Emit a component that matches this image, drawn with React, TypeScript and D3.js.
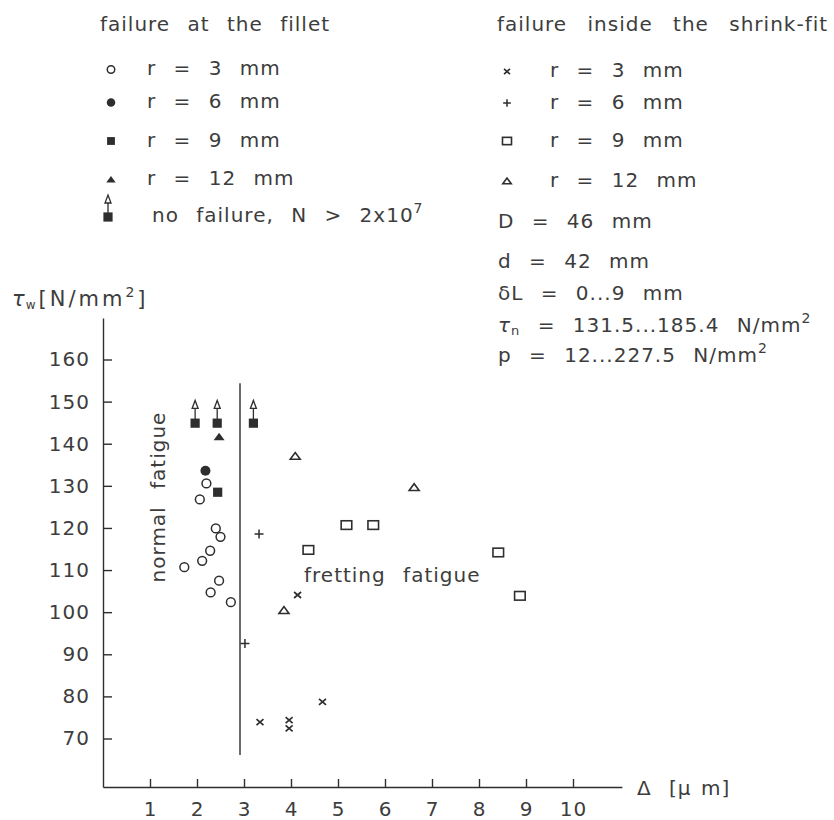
import React, { useEffect, useRef } from 'react';
import * as d3 from 'd3';

type Pt = [number, number];

const xTicks = [1, 2, 3, 4, 5, 6, 7, 8, 9, 10];
const yTicks = [70, 80, 90, 100, 110, 120, 130, 140, 150, 160];

// failure at the fillet  [delta in um, tau_w in N/mm2]
const filletR3: Pt[] = [
    [2.2, 130.7], [2.06, 126.9], [2.4, 120.0], [2.5, 118.0], [2.28, 114.7],
    [2.11, 112.3], [1.73, 110.8], [2.47, 107.6], [2.29, 104.8], [2.72, 102.5],
];
const filletR6: Pt[] = [[2.18, 133.7]];
const filletR9: Pt[] = [[2.44, 128.6]];
const filletR12: Pt[] = [[2.47, 141.8]];
// no failure, N > 2x10^7 (arrow points up to the limit)
const noFailure: Pt[] = [[1.96, 145], [2.43, 145], [3.2, 145]];
const noFailureTip = 150.4;

// failure inside the shrink-fit
const shrinkR3: Pt[] = [[4.14, 104.2], [3.34, 74.0], [3.96, 74.5], [3.96, 72.5], [4.67, 78.8]];
const shrinkR6: Pt[] = [[3.32, 118.7], [3.02, 92.7]];
const shrinkR9: Pt[] = [[5.18, 120.8], [5.75, 120.8], [4.37, 114.9], [8.41, 114.3], [8.87, 104.0]];
const shrinkR12: Pt[] = [[4.09, 137.2], [6.62, 129.8], [3.85, 100.6]];

// border between normal fatigue and fretting fatigue
const borderX = 2.915;
const borderY: Pt = [66.2, 154.5];

const xAxisEnd = 11.04;
const yAxisRange: Pt = [58.6, 170];

const leftTitle = 'failure at the fillet';
const rightTitle = 'failure inside the shrink-fit';
const radiusLabels = ['r = 3 mm', 'r = 6 mm', 'r = 9 mm', 'r = 12 mm'];
const leftKinds = ['circleOpen', 'circleFilled', 'squareFilled', 'triangleFilled'];
const rightKinds = ['cross', 'plus', 'squareOpen', 'triangleOpen'];
const geometry = ['D = 46 mm', 'd = 42 mm', 'δL = 0...9 mm'];

const ink = '#2e2e2e';
const txt = '#3d3d3d';
const font = "'DejaVu Sans', sans-serif";

const App: React.FC = () => {
    const ref = useRef<SVGSVGElement | null>(null);

    useEffect(() => {
        if (!ref.current) return;
        const svg = d3.select(ref.current);
        svg.selectAll('*').remove();

        const x = d3.scaleLinear().domain([0, 10]).range([103, 573]);
        const y = d3.scaleLinear().domain([70, 160]).range([739, 360]);

        const addText = (g: any, px: number, py: number, s: string) =>
            g.append('text')
                .attr('x', px).attr('y', py)
                .style('font-family', font)
                .style('font-size', '20px')
                .style('letter-spacing', '1px')
                .style('word-spacing', '10px')
                .style('fill', txt)
                .text(s);

        const marker = (g: any, kind: string, cx: number, cy: number, s = 1) => {
            switch (kind) {
                case 'circleOpen':
                    g.append('circle').attr('cx', cx).attr('cy', cy).attr('r', 4.4 * s)
                        .attr('fill', 'none').attr('stroke', ink).attr('stroke-width', 1.5);
                    break;
                case 'circleFilled':
                    g.append('circle').attr('cx', cx).attr('cy', cy).attr('r', 5 * s).attr('fill', ink);
                    break;
                case 'squareFilled':
                    g.append('rect').attr('x', cx - 4.6 * s).attr('y', cy - 4.6 * s)
                        .attr('width', 9.2 * s).attr('height', 9.2 * s).attr('fill', ink);
                    break;
                case 'triangleFilled':
                    g.append('path').attr('fill', ink)
                        .attr('d', `M${cx - 5.5 * s},${cy + 3.5 * s}L${cx + 5.5 * s},${cy + 3.5 * s}L${cx},${cy - 4 * s}Z`);
                    break;
                case 'squareOpen':
                    g.append('rect').attr('x', cx - 5.3 * s).attr('y', cy - 4.3 * s)
                        .attr('width', 10.6 * s).attr('height', 8.6 * s)
                        .attr('fill', 'none').attr('stroke', ink).attr('stroke-width', 1.6);
                    break;
                case 'triangleOpen':
                    g.append('path').attr('fill', 'none').attr('stroke', ink).attr('stroke-width', 1.6)
                        .attr('d', `M${cx - 5 * s},${cy + 3.3 * s}L${cx + 5 * s},${cy + 3.3 * s}L${cx},${cy - 3.5 * s}Z`);
                    break;
                case 'cross':
                    g.append('path').attr('fill', 'none').attr('stroke', ink).attr('stroke-width', 1.7)
                        .attr('d', `M${cx - 3.5 * s},${cy - 3 * s}L${cx + 3.5 * s},${cy + 3 * s}M${cx - 3.5 * s},${cy + 3 * s}L${cx + 3.5 * s},${cy - 3 * s}`);
                    break;
                case 'plus':
                    g.append('path').attr('fill', 'none').attr('stroke', ink).attr('stroke-width', 1.5)
                        .attr('d', `M${cx - 4.5 * s},${cy}L${cx + 4.5 * s},${cy}M${cx},${cy - 4.5 * s}L${cx},${cy + 4.5 * s}`);
                    break;
            }
        };

        const arrow = (g: any, cx: number, cy: number, tip: number) => {
            marker(g, 'squareFilled', cx, cy);
            g.append('line').attr('x1', cx).attr('x2', cx).attr('y1', cy - 4).attr('y2', tip + 3)
                .attr('stroke', ink).attr('stroke-width', 1.3);
            g.append('path').attr('fill', 'white').attr('stroke', ink).attr('stroke-width', 1.3)
                .attr('d', `M${cx - 3},${tip + 8}L${cx + 3},${tip + 8}L${cx},${tip}Z`);
        };

        // axes
        const xa = d3.scaleLinear().domain([0, xAxisEnd]).range([x(0), x(xAxisEnd)]);
        const ya = d3.scaleLinear().domain(yAxisRange).range([y(yAxisRange[0]), y(yAxisRange[1])]);

        const gx = svg.append('g').attr('transform', `translate(0,${ya(yAxisRange[0])})`)
            .call(d3.axisBottom(xa).tickValues(xTicks).tickFormat(d3.format('d'))
                .tickSizeInner(-8).tickSizeOuter(0).tickPadding(15));
        const gy = svg.append('g').attr('transform', `translate(${x(0)},0)`)
            .call(d3.axisLeft(ya).tickValues(yTicks).tickFormat(d3.format('d'))
                .tickSizeInner(-9).tickSizeOuter(0).tickPadding(13));
        [gx, gy].forEach((g) => {
            g.selectAll('path, line').attr('stroke', ink).attr('stroke-width', 1.4);
            g.selectAll('text').style('font-family', font).style('font-size', '20px')
                .style('letter-spacing', '1px').attr('fill', txt);
        });
        gy.selectAll('.tick').attr('transform', (d: any) => `translate(0,${y(d)})`);

        // axis titles
        const yl = svg.append('text').attr('x', 12).attr('y', 306)
            .style('font-family', font).style('font-size', '21px').style('fill', txt);
        yl.append('tspan').text('τ').style('font-style', 'italic');
        yl.append('tspan').text('w').attr('dy', 3).attr('dx', 1).style('font-size', '12px');
        yl.append('tspan').text('[N/mm').attr('dy', -3).attr('dx', 3).style('letter-spacing', '3px');
        yl.append('tspan').text('2').attr('dy', -9).style('font-size', '14px');
        yl.append('tspan').text(']').attr('dy', 9).attr('dx', 3);

        const xl = addText(svg, 637, 795, '');
        xl.append('tspan').text('Δ ');
        xl.append('tspan').text('[μ m]').style('word-spacing', '2px');

        // border line
        svg.append('line')
            .attr('x1', x(borderX)).attr('x2', x(borderX))
            .attr('y1', y(borderY[0])).attr('y2', y(borderY[1]))
            .attr('stroke', ink).attr('stroke-width', 1.4);

        // region labels
        addText(svg, 0, 0, 'normal fatigue')
            .attr('transform', `translate(165,497) rotate(-90)`)
            .attr('text-anchor', 'middle');
        addText(svg, 304, 582, 'fretting fatigue');

        // points
        const pts = svg.append('g');
        const series: [string, Pt[]][] = [
            ['circleOpen', filletR3], ['circleFilled', filletR6], ['squareFilled', filletR9],
            ['triangleFilled', filletR12], ['cross', shrinkR3], ['plus', shrinkR6],
            ['squareOpen', shrinkR9], ['triangleOpen', shrinkR12],
        ];
        series.forEach(([kind, data]) => {
            data.forEach(([dx, dy]) => marker(pts, kind, x(dx), y(dy)));
        });
        noFailure.forEach(([dx, dy]) => arrow(pts, x(dx), y(dy), y(noFailureTip)));

        // legend left
        const leg = svg.append('g');
        addText(leg, 100, 31, leftTitle);
        const leftRows = [75, 108, 146.5, 185];
        radiusLabels.forEach((l, i) => {
            marker(leg, leftKinds[i], 111, leftRows[i] - 5.5, 0.85);
            addText(leg, 147, leftRows[i], l);
        });
        arrow(leg, 108, 217, 195);
        const nf = addText(leg, 152, 222, 'no failure, N > 2x10');
        nf.append('tspan').text('7').attr('dy', -9).style('font-size', '14px');

        // legend right
        addText(leg, 497, 31, rightTitle).style('word-spacing', '13px');
        const rightRows = [77, 108.5, 146.5, 186.5];
        radiusLabels.forEach((l, i) => {
            marker(leg, rightKinds[i], 507, rightRows[i] - 5.5, 0.85);
            addText(leg, 550, rightRows[i], l);
        });
        const geoRows = [228, 268, 300];
        geometry.forEach((l, i) => addText(leg, 498, geoRows[i], l));
        const tn = addText(leg, 498, 331.5, '');
        tn.append('tspan').text('τ').style('font-style', 'italic');
        tn.append('tspan').text('n').attr('dy', 3).style('font-size', '13px');
        tn.append('tspan').text(' = 131.5...185.4 N/mm').attr('dy', -3);
        tn.append('tspan').text('2').attr('dy', -9).style('font-size', '14px');
        const pp = addText(leg, 498, 361.5, 'p = 12...227.5 N/mm');
        pp.append('tspan').text('2').attr('dy', -9).style('font-size', '14px');
    }, []);

    return (
        <svg ref={ref} width={834} height={820}
            style={{ position: 'absolute', left: 0, top: 0, background: '#fff' }} />
    );
};

export default App;
